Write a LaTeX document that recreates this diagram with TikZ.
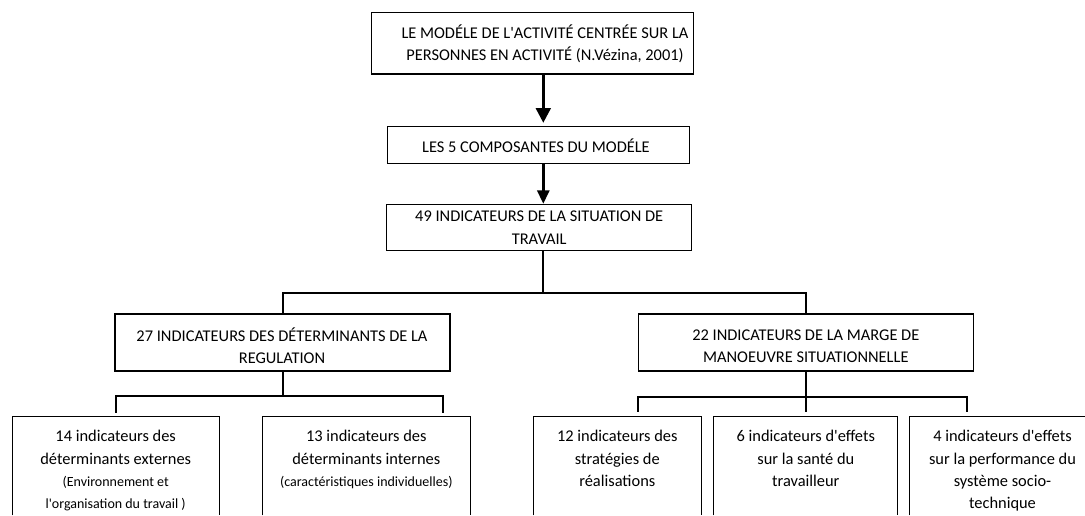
\documentclass[tikz,border=0pt]{standalone}
\usepackage{fontspec}
\setmainfont{Carlito}[Ligatures=TeXOff]
\usetikzlibrary{arrows.meta}
\begin{document}
\begin{tikzpicture}[x=0.75pt,y=-0.75pt,
  box/.style={draw=black,line width=0.8pt,fill=white,rectangle,inner sep=0pt,align=center,
    font=\fontsize{12.3}{16.8}\selectfont},
  frame/.style={rectangle,inner sep=0pt},
  side/.style={draw=black,line width=0.8pt},
  txt/.style={inner sep=0pt,align=center,font=\fontsize{12.3}{16.8}\selectfont},
  sm/.style={font=\fontsize{10.5}{16}\selectfont},
  conn/.style={draw=black,line width=1.5pt},
  arr/.style={draw=black,line width=2pt,-{Triangle[length=11pt,width=11pt]}},
  arrb/.style={draw=black,line width=2pt,-{Triangle[length=10pt,width=9pt]}}]
\useasboundingbox (0,0) rectangle (1085,515);
\fill[white] (0,0) rectangle (1085,515);
% top boxes
\node[box,minimum width=241.2pt,minimum height=46pt] (b1) at (532.5,43.3) {};
\node[txt] (t1) at (545,44) {LE MODÉLE DE L'ACTIVITÉ CENTRÉE SUR LA\\PERSONNES EN ACTIVITÉ (N.Vézina, 2001)};
\node[box,minimum width=226.7pt,minimum height=27.5pt] (b2) at (538.8,145) {};
\node[txt] (t2) at (536,145.5) {LES 5 COMPOSANTES DU MODÉLE};
\node[box,minimum width=228.75pt,minimum height=34.3pt] (b3) at (539.2,227.8) {49 INDICATEURS DE LA SITUATION DE\\TRAVAIL};
% second level
\node[box,minimum width=251.25pt,minimum height=42.75pt] (b27) at (282.5,342.5) {};
\node[txt] (t27) at (282,346) {27 INDICATEURS DES DÉTERMINANTS DE LA\\REGULATION};
\node[box,minimum width=251.25pt,minimum height=42.75pt] (b22) at (805.8,342.5) {};
\node[txt] (t22) at (805.8,346) {22 INDICATEURS DE LA MARGE DE\\MANOEUVRE SITUATIONNELLE};
% bottom boxes (open at the bottom of the picture): frames from y=416.7 to y=515
\node[frame,minimum width=155pt,minimum height=73.7pt] (b14) at (115.7,465.85) {};
\node[frame,minimum width=156pt,minimum height=73.7pt] (b13) at (366.3,465.85) {};
\node[frame,minimum width=126pt,minimum height=73.7pt] (b12) at (617.3,465.85) {};
\node[frame,minimum width=137.8pt,minimum height=73.7pt] (b6) at (805.8,465.85) {};
\node[frame,minimum width=160pt,minimum height=73.7pt] (b4) at (1016.7,465.85) {};
\foreach \b in {b14,b13,b12,b6}
  \draw[side] (\b.south west) -- (\b.north west) -- (\b.north east) -- (\b.south east);
\draw[side] (b4.south west) -- (b4.north west) -- (b4.north east);
\node[txt,anchor=north] (t14) at (115.7,430) {14 indicateurs des\\déterminants externes\\{\fontsize{10.5}{16}\selectfont (Environnement et}\\{\fontsize{10.5}{16}\selectfont l'organisation du travail )}};
\node[txt,anchor=north] (t13) at (366.3,430) {13 indicateurs des\\déterminants internes\\{\fontsize{10.5}{16}\selectfont (caractéristiques individuelles)}};
\node[txt,anchor=north] (t12) at (617.3,430) {12 indicateurs des\\stratégies de\\réalisations};
\node[txt,anchor=north] (t6) at (805.8,430) {6 indicateurs d'effets\\sur la santé du\\travailleur};
\node[txt,anchor=north] (t4) at (1002.5,430) {4 indicateurs d'effets\\sur la performance du\\système socio-\\technique};
% connectors
\coordinate (j) at (543.3,292.7);
\coordinate (j2) at (282.5,396);
\coordinate (j3) at (805.8,396.7);
\coordinate (d14) at (115.7,412.7);
\coordinate (d13) at (443,412.7);
\coordinate (d12) at (638.3,411.7);
\coordinate (d6) at (805.8,411.7);
\coordinate (d4) at (966.7,411.7);
\draw[arr,shorten >=2.5pt] (b1.south -| j) -- (b2.north -| j);
\draw[arrb,shorten >=0.5pt] (b2.south -| j) -- (b3.north -| j);
\draw[conn] (b3.south -| j) -- (j);
\draw[conn] (b27.north) |- (j) -| (b22.north);
\draw[conn] (b27.south) -- (j2);
\draw[conn] (d14) |- (j2) -| (d13);
\draw[conn] (b22.south) -- (d6);
\draw[conn] (d12) |- (j3) -| (d4);
\end{tikzpicture}
\end{document}
